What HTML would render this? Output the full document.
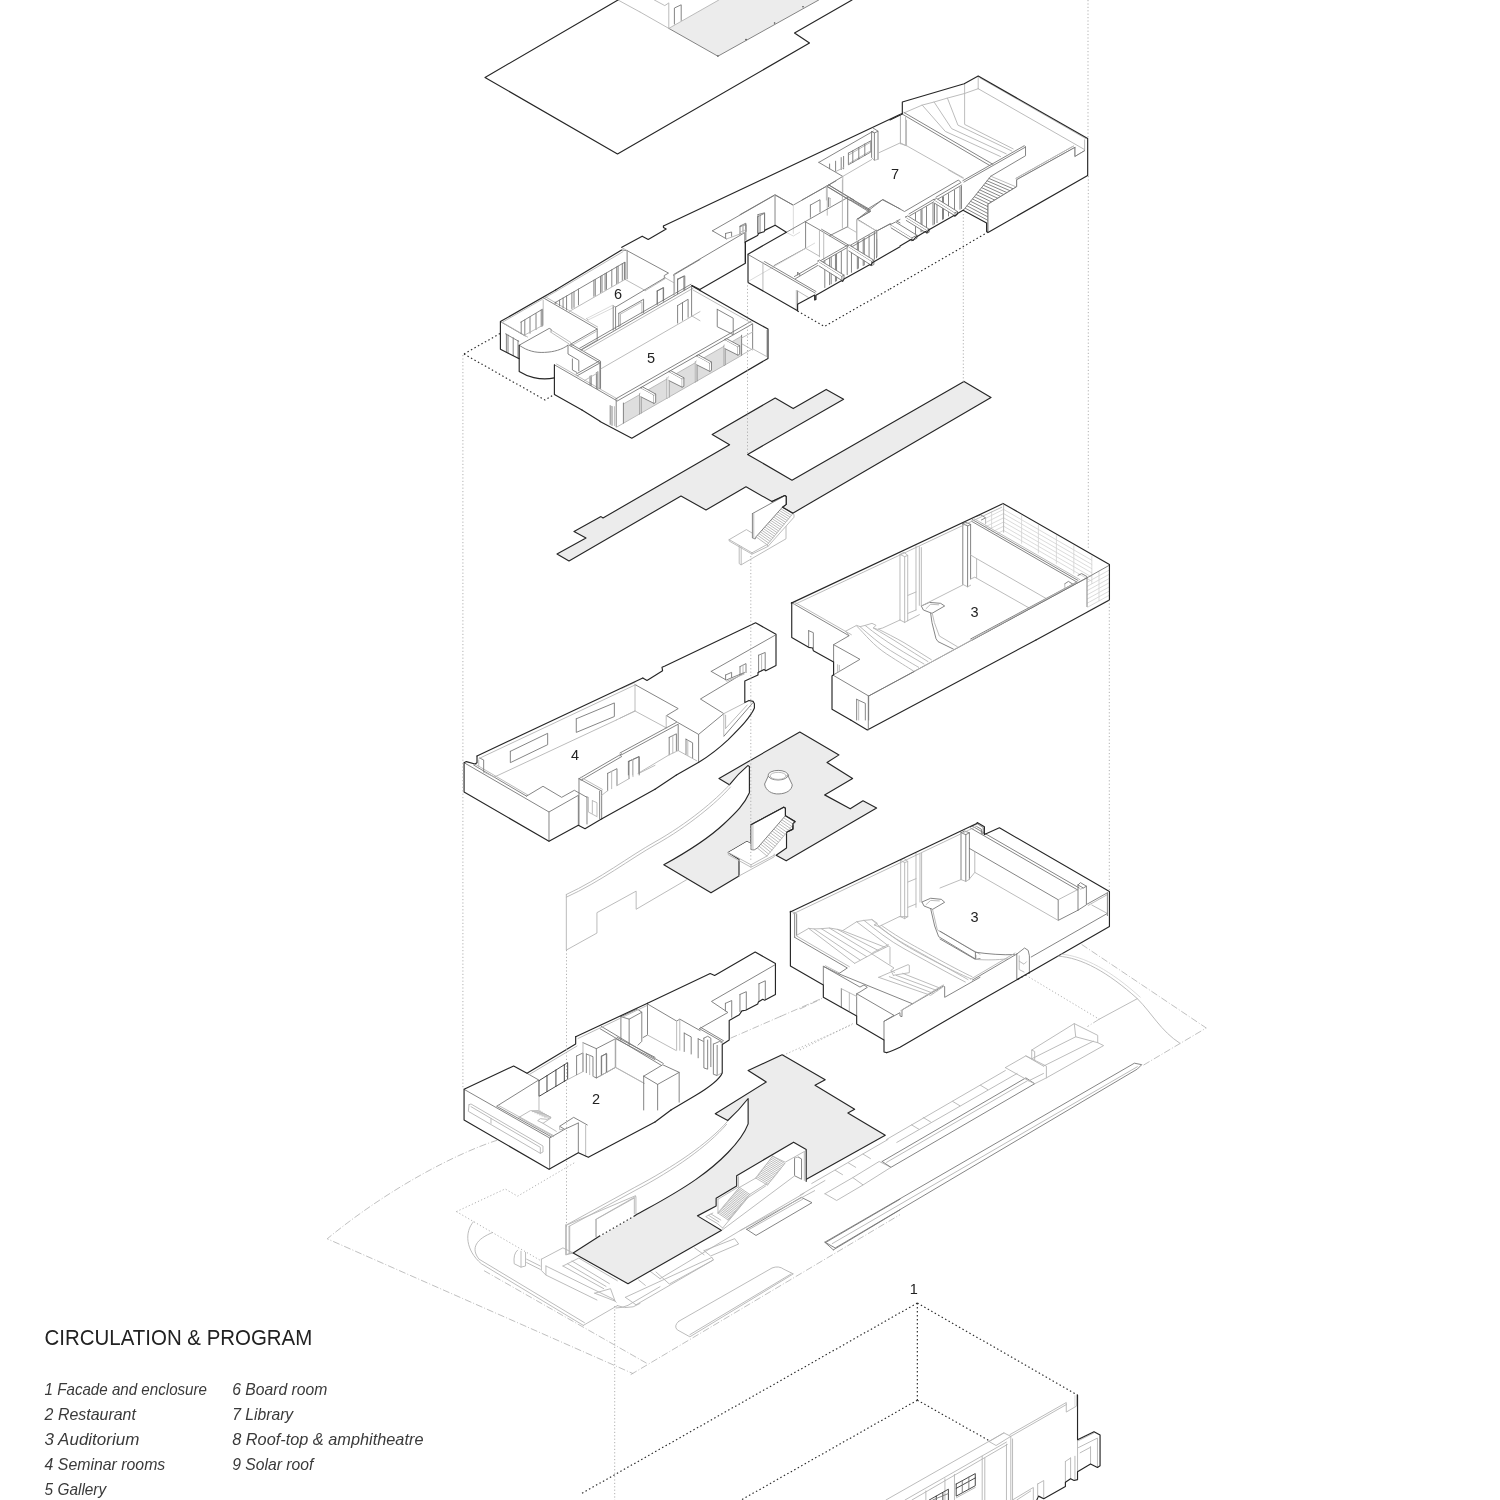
<!DOCTYPE html>
<html><head><meta charset="utf-8">
<style>
html,body{margin:0;padding:0;background:#fff;}
body{width:1500px;height:1500px;overflow:hidden;position:relative;font-family:"Liberation Sans",sans-serif;}
svg{position:absolute;left:0;top:0;}
svg *{vector-effect:non-scaling-stroke;fill:none;stroke-linejoin:round;stroke-linecap:round;}
.k{stroke:#262626;stroke-width:1.15;}
.m{stroke:#777;stroke-width:0.9;}
.n{stroke:#333;stroke-width:0.9;}
.t{stroke:#b4b4b4;stroke-width:0.9;}
.l{stroke:#d2d2d2;stroke-width:0.8;}
.f{fill:#ececec;stroke:none;}
.fk{fill:#ececec;stroke:#262626;stroke-width:1.15;}
.w{fill:#fff;stroke:none;}
.d{stroke:#2a2a2a;stroke-width:1.15;stroke-dasharray:1.5 2.5;stroke-linecap:butt;}
.dl{stroke:#a8a8a8;stroke-width:0.9;stroke-dasharray:1.2 2.2;stroke-linecap:butt;}
.ds{stroke:#b0b0b0;stroke-width:0.8;stroke-dasharray:7 2 1 2;stroke-linecap:butt;}
text{fill:#222;stroke:none;font-family:"Liberation Sans",sans-serif;}
</style></head><body>
<svg width="1500" height="1500" viewBox="0 0 1500 1500">
<g id="roof">
<polygon class="f" points="668.8,28.4 717.9,56.2 818.7,0 718.8,0"/>
<polyline class="m" points="668.8,28.4 717.9,56.2 818.7,0"/>
<polyline class="t" points="668.8,28.4 718.8,0"/>
<polyline class="t" points="640,12 668.8,28.4 668.8,3.2"/>
<polyline class="t" points="654.4,0 664.8,5.6 668.4,3.2"/>
<polyline class="m" points="674.4,24 674.4,8 681.2,4.8 681.2,20.4"/>
<polyline class="t" points="618,0 640,12"/>
<circle cx="717.9" cy="56" r="0.8" style="fill:#444"/><circle cx="746" cy="39.6" r="0.8" style="fill:#444"/><circle cx="774.6" cy="23" r="0.8" style="fill:#444"/><circle cx="803" cy="6.8" r="0.8" style="fill:#444"/>
<polyline class="k" points="618,0 485,77.5 617.5,154 809.5,43 794.5,33 852,0"/>
</g>

<!--ROOF-->
<g transform="translate(490,290) scale(0.08)">
<polyline class="m" points="130,395 440,575"/>
<polyline class="t" points="160,408 470,588"/>
<polyline class="m" points="195,548 360,642"/>
<polyline class="m" points="205,552 205,775"/>
<polyline class="m" points="225,562 225,785"/>
<polyline class="m" points="290,598 290,820"/>
<polyline class="m" points="350,632 350,850"/>
<polyline class="m" points="365,690 740,480 765,492 765,515"/>
<path class="m" d="M365,690 C470,765 570,785 680,780 C800,775 900,745 975,690"/>
<polyline class="t" points="752,522 985,672"/>
<polyline class="t" points="772,505 1008,655"/>
<polyline class="m" points="385,402 645,247"/>
<polyline class="m" points="390,400 390,545"/>
<polyline class="m" points="435,375 435,560"/>
<polyline class="m" points="500,338 500,540"/>
<polyline class="m" points="575,295 575,495"/>
<polyline class="m" points="640,250 640,455"/>
<polyline class="m" points="655,240 655,450"/>
<polyline class="t" points="435,562 650,447"/>
<polyline class="t" points="665,130 665,440"/>
<polyline class="m" points="670,100 1340,487 1340,630"/>
<polyline class="t" points="692,85 1345,462"/>
<polyline class="m" points="1340,487 1000,682"/>
<polyline class="t" points="1340,510 1010,700"/>
<polyline class="t" points="1340,630 1135,748"/>
<polyline class="m" points="975,690 975,800 1110,880 1110,1010"/>
<polyline class="m" points="1030,862 1030,1000 1085,1030"/>
<polyline class="m" points="992,690 1362,905"/>
<polyline class="m" points="1012,675 1382,890 1382,1230"/>
<polyline class="m" points="1362,890 1075,1052"/>
<polyline class="m" points="1378,910 1090,1072"/>
<polyline class="m" points="805,935 1577,1379"/>
<polyline class="t" points="832,925 1592,1362"/>
<polyline class="m" points="1250,1078 1250,1185"/>
<polyline class="m" points="1265,1070 1265,1192"/>
<polyline class="m" points="1330,1032 1330,1232"/>
<polyline class="m" points="1347,1022 1347,1240"/>
<polyline class="t" points="1180,1132 1340,1040"/>
<polyline class="k" points="820,0 130,395 130,740 365,860"/>
<path class="k" d="M365,690 L365,1020 C450,1075 620,1140 805,1098"/>
<polyline class="k" points="805,935 805,1305 1150,1500"/>
<polyline class="t" points="835,12 160,400"/>
</g>
<g transform="translate(490,250) scale(0.14)">
<polyline class="k" points="657,1143 786,1224"/>
<polyline class="k" points="940,0 468,285"/>
<polyline class="t" points="950,12 478,292"/>
<polyline class="k" points="1500,290 1440,255"/>
<polyline class="m" points="462,378 962,88"/>
<polyline class="m" points="470,373 470,384"/>
<polyline class="m" points="497,358 497,399"/>
<polyline class="m" points="522,343 522,414"/>
<polyline class="m" points="547,329 547,428"/>
<polyline class="m" points="585,307 585,418"/>
<polyline class="m" points="600,298 600,410"/>
<polyline class="m" points="632,279 632,392"/>
<polyline class="m" points="742,216 742,331"/>
<polyline class="m" points="752,210 752,325"/>
<polyline class="m" points="790,188 790,304"/>
<polyline class="m" points="800,182 800,299"/>
<polyline class="m" points="822,169 822,287"/>
<polyline class="m" points="832,163 832,281"/>
<polyline class="m" points="870,141 870,260"/>
<polyline class="m" points="905,121 905,241"/>
<polyline class="m" points="915,115 915,235"/>
<polyline class="m" points="945,98 945,218"/>
<polyline class="m" points="960,89 960,210"/>
<polyline class="t" points="565,440 965,210 1110,290"/>
<polyline class="m" points="980,3 980,205"/>
<polyline class="m" points="965,88 965,210"/>
<polyline class="m" points="945,0 980,5 1275,165 1245,182 1245,198"/>
<polyline class="t" points="1110,290 1250,205"/>
<polyline class="l" points="690,490 875,395"/>
<polyline class="l" points="700,500 885,410"/>
<polyline class="t" points="690,490 700,500"/>
<polyline class="m" points="880,398 880,572"/>
<polyline class="m" points="897,408 897,565"/>
<polyline class="t" points="880,398 897,408"/>
<polyline class="m" points="897,408 1250,198"/>
<polyline class="t" points="1250,198 1310,232"/>
<polyline class="m" points="920,452 1097,352 1097,448"/>
<polyline class="m" points="920,452 920,548"/>
<polyline class="t" points="932,458 1085,370 1085,452"/>
<polyline class="t" points="932,458 932,540"/>
<polyline class="m" points="1195,292 1240,268 1240,365"/>
<polyline class="m" points="1195,292 1195,388"/>
<polyline class="m" points="1315,180 1315,322"/>
<polyline class="m" points="1310,180 1500,68"/>
<polyline class="m" points="1340,212 1385,186 1385,288"/>
<polyline class="m" points="1340,212 1340,312"/>
<polyline class="t" points="770,640 660,705"/>
<polyline class="m" points="640,702 1435,245"/>
<polyline class="m" points="652,714 1440,258"/>
<polyline class="t" points="668,724 1452,272"/>
<polyline class="t" points="790,850 1500,440"/>
<polyline class="m" points="1340,397 1415,352 1415,480"/>
<polyline class="m" points="1340,397 1340,522"/>
<polyline class="m" points="1375,376 1375,502"/>
<polyline class="m" points="1440,258 1440,470"/>
<polyline class="t" points="1440,470 1500,505"/>
<polyline class="m" points="785,800 785,990"/>
<polyline class="t" points="770,872 770,985"/>
</g>
<g transform="translate(600,320) scale(0.12)">
<polygon style="fill:#dedede;stroke:none" points="195,700 1180,135 1180,295 195,860"/>
<polyline class="t" points="195,700 1180,135"/>
<polyline class="t" points="140,892 1180,295"/>
<polyline class="m" points="195,692 195,860"/>
<polyline class="m" points="330,615 330,783"/>
<polyline class="m" points="345,606 345,774"/>
<polyline class="m" points="560,482 560,650"/>
<polyline class="m" points="575,474 575,642"/>
<polyline class="m" points="795,348 795,516"/>
<polyline class="m" points="808,340 808,508"/>
<polyline class="m" points="1035,210 1035,378"/>
<polyline class="m" points="1045,204 1045,372"/>
<polyline class="m" points="1180,127 1180,295"/>
<polygon class="w" points="331,617 344,608 344,773 331,782"/>
<polygon class="w" points="561,484 574,476 574,641 561,649"/>
<polygon class="w" points="796,350 807,342 807,507 796,515"/>
<polygon class="w" points="1036,212 1044,206 1044,371 1036,377"/>
<polygon class="w" points="340,565 450,625 450,695 340,640"/>
<polyline class="m" points="340,565 450,625 450,695 340,640"/>
<polygon class="w" points="450,625 464,617 464,687 450,695"/>
<polyline class="m" points="450,625 464,617 464,687 450,695"/>
<polygon class="w" points="340,565 354,557 464,617 450,625"/>
<polyline class="m" points="340,565 354,557 464,617"/>
<polyline class="t" points="340,640 340,777"/>
<polygon class="w" points="575,430 685,490 685,560 575,505"/>
<polyline class="m" points="575,430 685,490 685,560 575,505"/>
<polygon class="w" points="685,490 699,482 699,552 685,560"/>
<polyline class="m" points="685,490 699,482 699,552 685,560"/>
<polygon class="w" points="575,430 589,422 699,482 685,490"/>
<polyline class="m" points="575,430 589,422 699,482"/>
<polyline class="t" points="575,505 575,642"/>
<polygon class="w" points="805,298 915,358 915,428 805,373"/>
<polyline class="m" points="805,298 915,358 915,428 805,373"/>
<polygon class="w" points="915,358 929,350 929,420 915,428"/>
<polyline class="m" points="915,358 929,350 929,420 915,428"/>
<polygon class="w" points="805,298 819,290 929,350 915,358"/>
<polyline class="m" points="805,298 819,290 929,350"/>
<polyline class="t" points="805,373 805,510"/>
<polygon class="w" points="1040,163 1150,223 1150,293 1040,238"/>
<polyline class="m" points="1040,163 1150,223 1150,293 1040,238"/>
<polygon class="w" points="1150,223 1164,215 1164,285 1150,293"/>
<polyline class="m" points="1150,223 1164,215 1164,285 1150,293"/>
<polygon class="w" points="1040,163 1054,155 1164,215 1150,223"/>
<polyline class="m" points="1040,163 1054,155 1164,215"/>
<polyline class="t" points="1040,238 1040,375"/>
<polyline class="m" points="130,658 1258,12"/>
<polyline class="m" points="142,676 1272,32"/>
<polyline class="m" points="135,665 135,890"/>
<polyline class="t" points="120,722 120,880"/>
<polyline class="m" points="85,715 85,870"/>
<polyline class="m" points="100,722 100,878"/>
<polyline class="t" points="85,715 100,722"/>
<polyline class="m" points="1272,32 1272,240"/>
<polyline class="t" points="1180,292 1272,240 1390,305"/>
<polyline class="t" points="1390,85 1390,300"/>
<polyline class="t" points="1180,150 1272,100"/>
<polyline class="t" points="1185,200 1272,250"/>
<polyline class="m" points="977,-89 977,56 1110,122 1110,-15 977,-89"/>
<polyline class="k" points="0,845 265,985 1400,320 1400,75 1270,5"/>
</g>
<polyline class="t" points="693,290 752.4,323.5"/>
<g transform="translate(620,190) scale(0.12)">
<polyline class="m" points="770,340 1295,40 1440,125"/>
<polyline class="m" points="770,340 888,408"/>
<polyline class="m" points="450,702 1040,355 1040,440"/>
<polyline class="t" points="888,408 1040,352"/>
<polyline class="m" points="880,362 930,350 930,385"/>
<polyline class="m" points="880,362 880,400"/>
<polyline class="m" points="1000,305 1050,288 1050,345"/>
<polyline class="m" points="1000,305 1000,368"/>
<polyline class="t" points="1025,296 1025,355"/>
<polyline class="m" points="1150,205 1205,190 1205,335"/>
<polyline class="m" points="1150,205 1150,360"/>
<polyline class="t" points="1170,200 1170,350"/>
<polyline class="t" points="1295,40 1295,295"/>
<polyline class="m" points="480,742 540,715 540,832"/>
<polyline class="m" points="480,742 480,862"/>
<polyline class="m" points="310,842 360,815 360,925"/>
<polyline class="m" points="310,842 310,952"/>
<polyline class="t" points="455,705 455,880"/>
<polyline class="t" points="15,480 60,505 60,740"/>
<polyline class="k" points="15,478 185,385 235,412 385,325 362,312 362,300"/>
<polyline class="k" points="665,830 1045,610 1045,435"/>
<polyline class="k" points="600,795 665,830"/>
</g>
<polyline class="k" points="663.4,226 902,113.6"/>
<g transform="translate(740,180) scale(0.1066667)">
<polyline class="m" points="0,325 325,140 500,235 818,55 900,8"/>
<polyline class="t" points="325,140 325,425"/>
<polyline class="l" points="500,235 500,500"/>
<polyline class="t" points="818,55 818,330"/>
<polyline class="l" points="440,495 500,525 560,490"/>
<polyline class="m" points="165,345 230,312 230,475"/>
<polyline class="m" points="165,345 165,498"/>
<polyline class="t" points="185,336 185,490"/>
<polyline class="m" points="660,235 750,185 750,300"/>
<polyline class="m" points="660,235 660,350"/>
<polyline class="m" points="830,165 830,250"/>
<polyline class="t" points="845,172 845,245"/>
<polyline class="t" points="830,165 845,172"/>
<polyline class="m" points="0,432 55,405 55,560"/>
<polyline class="t" points="0,490 50,468"/>
<polyline class="t" points="28,420 28,478"/>
<polyline class="m" points="435,490 1008,165"/>
<polyline class="m" points="615,390 615,640"/>
<polyline class="m" points="610,390 750,470 1035,640"/>
<polyline class="m" points="765,462 1048,628"/>
<polyline class="t" points="745,470 745,720"/>
<polyline class="t" points="785,492 785,742"/>
<polyline class="m" points="320,802 615,640"/>
<polyline class="t" points="615,640 745,715"/>
<polyline class="l" points="78,950 700,592"/>
<polyline class="m" points="75,698 705,1060"/>
<polyline class="m" points="230,765 712,1045"/>
<polyline class="t" points="215,770 215,1040"/>
<polyline class="m" points="540,1040 540,1165"/>
<polyline class="t" points="528,1035 528,1215"/>
<polyline class="t" points="540,1040 640,1100"/>
<polyline class="m" points="510,905 735,775"/>
<polyline class="m" points="520,925 745,792"/>
<polyline class="m" points="540,868 560,878 560,895"/>
<polyline class="m" points="540,868 540,890"/>
<polyline class="m" points="745,762 1010,610"/>
<polyline class="m" points="760,775 1020,625"/>
<polyline class="m" points="1030,615 1282,470"/>
<polyline class="m" points="1042,630 1282,490"/>
<polyline class="m" points="795,760 795,1008"/>
<polyline class="m" points="840,734 840,982"/>
<polyline class="m" points="855,725 855,973"/>
<polyline class="m" points="895,702 895,950"/>
<polyline class="m" points="905,697 905,945"/>
<polyline class="m" points="950,671 950,919"/>
<polyline class="m" points="1005,639 1005,887"/>
<polyline class="m" points="1045,616 1045,865"/>
<polyline class="m" points="1100,584 1100,833"/>
<polyline class="m" points="1110,579 1110,827"/>
<polyline class="m" points="1155,553 1155,802"/>
<polyline class="m" points="1165,547 1165,796"/>
<polyline class="m" points="1210,521 1210,770"/>
<polyline class="m" points="1260,492 1260,742"/>
<polyline class="m" points="1280,481 1280,730"/>
<polygon class="w" points="730,760 960,900 960,940 730,802"/>
<polyline class="m" points="730,760 955,902 955,942 740,805"/>
<polygon class="w" points="730,760 745,750 975,892 955,902"/>
<polyline class="m" points="730,760 745,750 975,892 975,932 955,942"/>
<polyline class="m" points="955,902 975,892"/>
<polygon class="w" points="1010,620 1240,760 1240,800 1010,662"/>
<polyline class="m" points="1010,620 1235,762 1235,802 1020,665"/>
<polygon class="w" points="1010,620 1025,610 1255,752 1235,762"/>
<polyline class="m" points="1010,620 1025,610 1255,752 1255,792 1235,802"/>
<polyline class="m" points="1235,762 1255,752"/>
<polyline class="m" points="830,45 1225,290 1100,368"/>
<polyline class="m" points="822,62 1210,298"/>
<polyline class="m" points="1100,368 1335,185 1500,270"/>
<polyline class="m" points="1100,368 1280,478"/>
<polyline class="l" points="1100,370 1100,560"/>
<polyline class="m" points="1010,165 1010,440"/>
<polyline class="t" points="960,0 960,450"/>
<polyline class="m" points="1005,440 840,522"/>
<polyline class="t" points="1005,440 1090,490"/>
<polyline class="m" points="1280,480 1410,410 1500,462"/>
<polyline class="m" points="1282,555 1282,720"/>
<polyline class="t" points="1410,410 1410,440 1500,492"/>
<polyline class="m" points="1470,385 1500,370"/>
<polyline class="m" points="1470,385 1500,402"/>
<polyline class="k" points="50,770 50,580 165,520 175,500 225,485 235,470 330,425 435,490 75,695 75,960 540,1225 540,1165 548,1160 700,1078 700,1125 712,1120 712,1080 950,945 962,950 975,928 1215,795 1228,800 1240,775 1500,625"/>
</g>
<polyline class="k" points="700,290.6 752.4,320.6"/>
<g transform="translate(790,100) scale(0.08)">
<polyline class="m" points="360,780 1040,390"/>
<polyline class="m" points="360,780 660,955 470,1070 150,1250"/>
<polyline class="t" points="660,955 1020,745"/>
<polyline class="t" points="660,955 660,1150"/>
<polyline class="m" points="1020,395 1020,720"/>
<polyline class="m" points="1055,412 1055,755"/>
<polyline class="m" points="1100,390 1100,740"/>
<polyline class="m" points="1020,395 1055,412 1100,390 1040,352"/>
<polyline class="t" points="1055,755 1100,740"/>
<polyline class="t" points="1020,720 1055,755"/>
<polyline class="m" points="495,800 495,860"/>
<polyline class="m" points="570,765 570,890"/>
<polyline class="m" points="640,720 640,870"/>
<polyline class="m" points="670,705 670,860"/>
<polyline class="t" points="580,890 670,845"/>
<polyline class="m" points="730,665 1010,510 1010,650 730,810 730,665"/>
<polyline class="t" points="742,682 1000,532"/>
<polyline class="t" points="742,790 1000,640"/>
<polyline class="m" points="785,635 785,780"/>
<polyline class="m" points="860,592 860,738"/>
<polyline class="m" points="935,550 935,695"/>
<polyline class="t" points="1110,660 1380,535 1450,572"/>
<polyline class="t" points="1380,172 1380,540"/>
<polyline class="t" points="1445,215 1445,570"/>
<polyline class="m" points="460,1080 740,1250"/>
<polyline class="m" points="490,1065 800,1250"/>
<polyline class="t" points="455,1080 455,1250"/>
</g>
<g transform="translate(890,60) scale(0.14)">
<polyline class="t" points="630,115 630,205"/>
<polyline class="t" points="533,170 533,460 880,635"/>
<polyline class="t" points="630,205 1390,640"/>
<polyline class="t" points="1390,570 1390,640"/>
<polyline class="m" points="1320,625 1320,690 1390,648"/>
<polyline class="t" points="643,128 1400,562"/>
<polyline class="m" points="1320,625 905,855 905,905 700,1030 700,1225"/>
<polyline class="t" points="1310,615 900,845"/>
<polyline class="t" points="630,205 530,240 410,272 315,300 230,322 100,378"/>
<polyline class="t" points="410,272 485,465 870,650"/>
<polyline class="t" points="315,300 440,490 830,670"/>
<polyline class="t" points="230,322 395,510 790,690"/>
<polyline class="m" points="85,385 715,755"/>
<polyline class="m" points="100,375 735,745"/>
<polyline class="t" points="118,430 118,610"/>
<polyline class="t" points="75,392 75,598"/>
<polyline class="t" points="75,598 118,612 525,842"/>
<polyline class="m" points="520,862 960,612 968,620 968,684 720,830"/>
<polyline class="m" points="528,872 968,622"/>
<polyline class="m" points="720,830 525,1072"/>
<polyline class="m" points="707,846 891,925"/>
<polyline class="m" points="694,863 876,942"/>
<polyline class="m" points="681,879 862,959"/>
<polyline class="m" points="668,895 848,977"/>
<polyline class="m" points="655,912 833,994"/>
<polyline class="m" points="642,928 819,1011"/>
<polyline class="m" points="629,944 805,1028"/>
<polyline class="m" points="616,961 790,1045"/>
<polyline class="m" points="603,977 776,1062"/>
<polyline class="m" points="590,993 762,1079"/>
<polyline class="m" points="577,1010 747,1096"/>
<polyline class="m" points="564,1026 733,1114"/>
<polyline class="m" points="551,1042 719,1131"/>
<polyline class="m" points="538,1059 704,1148"/>
<polyline class="t" points="720,830 905,908"/>
<polygon class="w" points="700,1030 905,905 905,855 1320,625 1320,690 1390,648 1412,640 1412,825 700,1232"/>
<polyline class="m" points="1320,625 1320,690 1390,648"/>
<polyline class="m" points="1320,625 905,855 905,905 700,1030 700,1225"/>
<polyline class="t" points="1310,615 900,845"/>
<polyline class="k" points="0,428 88,385 88,300 530,170 630,115 1412,560 1412,825 700,1232 690,1225 690,1165 525,1075"/>
</g>
<g transform="translate(850,170) scale(0.1)">
<polyline class="m" points="65,495 205,415"/>
<polyline class="m" points="0,280 200,395"/>
<polyline class="m" points="0,296 185,402"/>
<polyline class="t" points="65,495 65,700"/>
<polyline class="l" points="65,495 250,600"/>
<polyline class="m" points="180,388 330,295 545,415 1085,100 1110,125 860,272"/>
<polyline class="m" points="590,440 840,292"/>
<polyline class="m" points="598,458 848,312"/>
<polyline class="m" points="870,296 1118,150"/>
<polyline class="m" points="270,608 400,540 455,572"/>
<polyline class="t" points="270,608 270,860"/>
<polyline class="t" points="985,0 1130,82"/>
<polyline class="m" points="655,432 655,650"/>
<polyline class="m" points="710,400 710,618"/>
<polyline class="m" points="720,395 720,613"/>
<polyline class="m" points="765,368 765,587"/>
<polyline class="m" points="830,331 830,549"/>
<polyline class="m" points="845,322 845,540"/>
<polyline class="m" points="870,305 870,526"/>
<polyline class="m" points="925,273 925,494"/>
<polyline class="m" points="935,267 935,489"/>
<polyline class="m" points="985,238 985,460"/>
<polyline class="m" points="1045,204 1045,425"/>
<polyline class="m" points="1100,172 1100,393"/>
<polyline class="m" points="1115,163 1115,385"/>
<polygon class="w" points="405,545 620,678 620,708 405,575"/>
<polyline class="m" points="405,545 620,678 620,708 413,580"/>
<polygon class="w" points="405,545 455,520 670,653 620,678"/>
<polyline class="m" points="405,545 455,520 670,653 670,683 620,708"/>
<polyline class="m" points="620,678 670,653"/>
<polygon class="w" points="555,470 770,603 770,633 555,500"/>
<polyline class="m" points="555,470 770,603 770,633 563,505"/>
<polygon class="w" points="555,470 577,459 792,592 770,603"/>
<polyline class="m" points="555,470 577,459 792,592 792,622 770,633"/>
<polyline class="m" points="770,603 792,592"/>
<polygon class="w" points="840,298 1050,428 1050,458 840,328"/>
<polyline class="m" points="840,298 1050,428 1050,458 848,333"/>
<polygon class="w" points="840,298 865,285 1075,415 1050,428"/>
<polyline class="m" points="840,298 865,285 1075,415 1075,445 1050,458"/>
<polyline class="m" points="1050,428 1075,415"/>
<polyline class="k" points="500,760 610,695 630,705 655,675 755,615 770,625 790,598 1040,455 1050,462 1075,435 1135,400"/>
<polyline class="d" points="400,1190 1375,625"/>
</g>
<!--L3-->
<polygon class="fk" points="557,554 586,538 574,531.6 601,516.6 603,518 729.6,444.8 712.2,434.6 775.2,398 793.2,408.6 826.2,389.4 843.6,399.2 747.6,454.4 792,480.2 964,381.4 991,397.6 792.8,513.2 782.4,507.2 786.2,504.4 786.2,496.4 784.8,495.6 772,501.6 746,486.8 706,510 681,496 569,561"/>
<g transform="translate(700,470) scale(0.08)">
<polygon class="w" points="365,870 580,745 865,910 650,1035"/>
<polyline class="t" points="365,870 580,745 655,790"/>
<polyline class="t" points="365,870 650,1035 840,930"/>
<polyline class="t" points="365,870 365,888 650,1052 650,1035"/>
<polyline class="t" points="650,1052 850,955"/>
<polyline class="t" points="490,945 490,1170 515,1185 515,960"/>
<polyline class="t" points="515,1185 1075,860 1075,700"/>
<polygon class="w" points="1160,545 1175,555 1175,590 850,955 840,935"/>
<polyline class="t" points="1160,545 1175,555 1175,590 850,955 840,935"/>
<polygon class="w" points="1030,465 1160,545 840,935 700,835"/>
<polyline class="t" points="1030,465 1160,545"/>
<polyline class="t" points="1012,486 1142,567"/>
<polyline class="t" points="993,506 1124,588"/>
<polyline class="t" points="975,527 1107,610"/>
<polyline class="t" points="957,547 1089,632"/>
<polyline class="t" points="938,568 1071,653"/>
<polyline class="t" points="920,588 1053,675"/>
<polyline class="t" points="902,609 1036,697"/>
<polyline class="t" points="883,629 1018,718"/>
<polyline class="t" points="865,650 1000,740"/>
<polyline class="t" points="847,671 982,762"/>
<polyline class="t" points="828,691 964,783"/>
<polyline class="t" points="810,712 947,805"/>
<polyline class="t" points="792,732 929,827"/>
<polyline class="t" points="773,753 911,848"/>
<polyline class="t" points="755,773 893,870"/>
<polyline class="t" points="737,794 876,892"/>
<polyline class="t" points="718,814 858,913"/>
<polyline class="t" points="700,835 840,935"/>
<polyline class="t" points="1160,545 840,935"/>
<polygon class="w" points="655,545 1060,322 1078,332 1078,432 1030,465 700,835 690,862 655,850"/>
<polyline class="m" points="655,545 1060,322 1078,332 1078,432 1030,465 700,835 690,862 655,850 655,545"/>
<polyline class="t" points="672,538 672,858"/>
<polyline class="k" points="900,395 1060,320 1078,330 1078,430 1030,465 1160,540"/>
</g>
<!--C3-->
<g transform="translate(780,560) scale(0.133333)">
<polyline class="m" points="88,320 518,568 402,635 402,765"/>
<polyline class="t" points="112,318 535,560"/>
<polyline class="m" points="402,635 600,745 400,862"/>
<polyline class="m" points="400,865 665,1020 665,1200"/>
<polyline class="m" points="665,1020 1010,835"/>
<polyline class="t" points="490,535 575,490 600,500 640,490 690,475 720,490 700,510 730,520 770,510 900,450"/>
<polyline class="t" points="490,535 520,565"/>
<path class="t" d="M575,495 C640,560 700,640 800,705 S950,800 1000,832"/>
<path class="t" d="M600,500 C670,560 740,625 830,680 S980,770 1040,805"/>
<path class="t" d="M640,492 C710,550 790,605 870,655 S1020,745 1080,780"/>
<path class="t" d="M700,510 C760,545 830,585 900,630 S1050,725 1110,762"/>
<path class="t" d="M740,520 C790,545 860,580 930,620 S1070,710 1135,748"/>
<polyline class="t" points="900,-42 930,-58 958,-35 935,-25 900,-42"/>
<polyline class="t" points="900,-42 900,450"/>
<polyline class="t" points="935,-25 935,470"/>
<polyline class="t" points="958,-35 958,455"/>
<polyline class="t" points="1020,-105 1020,375"/>
<polyline class="t" points="1045,-100 1045,340"/>
<polyline class="t" points="1060,-93 1060,335"/>
<polyline class="t" points="900,450 935,468 958,455"/>
<polyline class="t" points="960,265 1020,240"/>
<polyline class="t" points="960,400 1020,375"/>
<polyline class="t" points="958,455 1045,410"/>
<polyline class="m" points="1060,345 1120,318 1205,325 1235,345 1140,400 1075,375 1060,345"/>
<polyline class="t" points="1095,365 1130,332 1190,336"/>
<polyline class="m" points="1130,400 1140,470 1170,590 1185,612 1300,668"/>
<polyline class="t" points="1142,400 1158,470 1195,570 1330,650"/>
<polyline class="m" points="215,530 250,545 250,660"/>
<polyline class="m" points="215,530 215,650"/>
<polyline class="m" points="575,1045 640,1075 640,1200"/>
<polyline class="m" points="575,1045 575,1200"/>
<polyline class="t" points="590,1060 590,1200"/>
<polyline class="t" points="432,785 432,840"/>
<polyline class="t" points="445,790 445,835"/>
<polyline class="k" points="88,320 88,582 215,655 245,660 250,680 402,765 402,860 390,870 390,1120 530,1200"/>
</g>
<g transform="translate(940,495) scale(0.12)">
<polyline class="l" points="530,120 1265,544"/>
<polyline class="l" points="380,195 530,120"/>
<polyline class="l" points="530,155 1265,579"/>
<polyline class="l" points="380,230 530,155"/>
<polyline class="l" points="530,190 1265,614"/>
<polyline class="l" points="380,265 530,190"/>
<polyline class="l" points="530,225 1265,649"/>
<polyline class="l" points="380,300 530,225"/>
<polyline class="l" points="530,260 1265,684"/>
<polyline class="l" points="380,335 530,260"/>
<polyline class="l" points="530,295 1265,719"/>
<polyline class="l" points="380,370 530,295"/>
<polyline class="l" points="680,172 680,402"/>
<polyline class="l" points="820,252 820,482"/>
<polyline class="l" points="970,339 970,569"/>
<polyline class="l" points="1115,423 1115,653"/>
<polyline class="l" points="1265,509 1265,739"/>
<polyline class="t" points="530,85 530,310"/>
<polyline class="l" points="430,140 430,280"/>
<polyline class="l" points="1230,725 1412,625"/>
<polyline class="l" points="1230,760 1412,660"/>
<polyline class="l" points="1230,795 1412,695"/>
<polyline class="l" points="1230,830 1412,730"/>
<polyline class="l" points="1230,865 1412,765"/>
<polyline class="l" points="1230,900 1412,800"/>
<polyline class="l" points="1230,935 1412,835"/>
<polyline class="l" points="1230,970 1412,870"/>
<polyline class="l" points="1325,640 1325,880"/>
<polygon class="w" points="270,215 1150,722 1150,1000 270,1000"/>
<polyline class="m" points="270,205 1150,712"/>
<polyline class="m" points="262,218 1140,725"/>
<polyline class="t" points="285,198 1165,705"/>
<polyline class="m" points="300,180 340,165 380,190 345,208"/>
<polyline class="t" points="380,190 380,240"/>
<polyline class="m" points="190,240 190,745"/>
<polyline class="m" points="230,258 230,765"/>
<polyline class="m" points="255,245 255,700"/>
<polyline class="m" points="190,240 215,228 255,245 232,258 190,240"/>
<polyline class="t" points="190,745 230,765 255,752"/>
<polyline class="t" points="255,500 305,530 305,690"/>
<polyline class="t" points="305,530 880,860"/>
<polyline class="t" points="255,700 290,685 740,940"/>
<polyline class="m" points="270,1208 1225,690 1225,930"/>
<polyline class="m" points="255,1200 1140,725"/>
<polyline class="m" points="1040,740 1070,720 1110,745"/>
<polyline class="m" points="1150,670 1180,655 1225,680"/>
<polyline class="t" points="1040,740 1040,770"/>
<polyline class="m" points="1225,690 1412,585"/>
<polyline class="k" points="525,70 1412,580 1412,875 800,1208"/>
</g>
<polyline class="k" points="850.7,720 867.3,730 1036,640"/>
<polyline class="m" points="868.3,696 868.3,730"/>
<polyline class="m" points="868.7,696 1087,577.8"/>
<polyline class="t" points="914.7,671.3 1076.8,582"/>
<polyline class="t" points="921.3,606 962.8,585"/>
<g transform="translate(780,500) scale(0.226667)">
<polyline class="k" points="50,455 980,18"/>
<polyline class="t" points="62,462 978,32"/>
</g>
<!--AUD2-->
<g transform="translate(455,720) scale(0.133333)">
<polyline class="m" points="68,320 705,690 925,565 925,790"/>
<polyline class="m" points="705,690 705,910"/>
<polyline class="m" points="140,338 535,570"/>
<polyline class="t" points="150,330 545,562"/>
<polyline class="m" points="535,572 660,497 800,580 895,527 990,580"/>
<polyline class="t" points="295,428 1210,0"/>
<polyline class="m" points="185,285 215,300 215,390"/>
<polyline class="t" points="215,390 295,428"/>
<polyline class="t" points="178,300 178,350"/>
<polyline class="m" points="415,235 695,100 695,185 415,320 415,235"/>
<polyline class="m" points="930,440 1250,254"/>
<polyline class="m" points="945,452 1250,274"/>
<polyline class="m" points="930,440 1095,530"/>
<polyline class="t" points="945,430 1105,520"/>
<polyline class="m" points="1085,535 1085,740"/>
<polyline class="m" points="1100,530 1100,745"/>
<polyline class="m" points="930,440 930,790"/>
<polyline class="m" points="1145,400 1215,365 1215,490"/>
<polyline class="m" points="1145,400 1145,530"/>
<polyline class="t" points="1175,385 1175,515"/>
<polyline class="m" points="1305,310 1380,275 1380,400"/>
<polyline class="m" points="1305,310 1305,440"/>
<polyline class="t" points="1335,298 1335,425"/>
<polyline class="t" points="1100,565 1145,530"/>
<polyline class="t" points="1215,492 1305,440"/>
<polyline class="t" points="1380,400 1500,340"/>
<polyline class="m" points="990,575 990,780"/>
<polyline class="t" points="1000,580 1000,690 1065,725"/>
<polyline class="t" points="1030,605 1065,620 1065,720"/>
<polyline class="t" points="1030,605 1030,700"/>
<polyline class="k" points="165,270 165,320 150,330 85,312 68,320 68,540 705,910 925,790 975,815 1095,745 1500,520"/>
</g>
<g transform="translate(620,615) scale(0.12)">
<polyline class="m" points="125,580 485,780 388,838 480,895 655,995 655,1225"/>
<polyline class="m" points="655,995 865,822 670,700 1035,482"/>
<polyline class="t" points="125,580 125,800 0,860"/>
<polyline class="t" points="125,800 385,940"/>
<polyline class="t" points="385,840 385,940"/>
<polyline class="m" points="0,1150 470,895"/>
<polyline class="m" points="0,1172 485,910 485,1130"/>
<polyline class="m" points="410,1020 470,990 470,1130"/>
<polyline class="m" points="410,1020 410,1165"/>
<polyline class="t" points="440,1005 440,1150"/>
<polyline class="t" points="410,1165 485,1130 640,1215"/>
<polyline class="t" points="410,1165 150,1320"/>
<polyline class="m" points="550,1035 605,1065 605,1190"/>
<polyline class="m" points="550,1035 550,1160"/>
<polyline class="t" points="565,1045 565,1170"/>
<polyline class="m" points="70,1220 160,1180 160,1333"/>
<polyline class="m" points="70,1220 70,1333"/>
<polyline class="t" points="105,1205 105,1333"/>
<polyline class="m" points="760,470 1290,170"/>
<polyline class="m" points="760,470 885,542 1035,480"/>
<polyline class="t" points="890,552 1035,492"/>
<polyline class="m" points="880,500 930,478 930,520"/>
<polyline class="m" points="880,500 880,540"/>
<polyline class="m" points="1000,430 1050,405 1050,480"/>
<polyline class="m" points="1000,430 1000,495"/>
<polyline class="t" points="1025,418 1025,485"/>
<polyline class="m" points="1155,335 1210,312 1210,455"/>
<polyline class="m" points="1155,335 1155,478"/>
<polyline class="t" points="1180,325 1180,465"/>
<polyline class="t" points="865,822 865,1010"/>
<polyline class="t" points="865,822 1035,735"/>
<polyline class="m" points="868,1008 1108,730"/>
<polyline class="t" points="880,945 1060,750"/>
<polyline class="t" points="880,835 880,945"/>
<polyline class="t" points="15,612 125,562"/>
<path class="k" d="M190,525 L225,545 L355,465 L350,435 L375,425 L1130,65 L1300,160 L1300,420 L1215,465 L1200,455 L1150,480 L1150,500 L1040,550 L1040,730 L1075,712 L1110,720 L1120,740 L1120,775 C1090,850 1000,940 900,1040 C820,1115 740,1175 660,1225 L470,1333"/>
</g>
<polyline class="k" points="655,789.3 676.4,775"/>
<polyline class="k" points="477,756 642.8,678"/>
<polyline class="t" points="479,758.5 636,684.5"/>
<polyline class="t" points="616.3,720 635,711"/>
<g transform="translate(455,610) scale(0.226667)">
<polyline class="m" points="535,480 703,410 703,470 535,540 535,480"/>
</g>
<!--SEM-->
<g transform="translate(555,720) scale(0.226667)">
<polyline class="t" points="580,705 358,835 358,755 185,850 185,940 50,1015 50,770"/>
</g>
<g transform="translate(655,720) scale(0.16)">
<path class="fk" d="M400,365 L905,75 L1150,218 L1075,265 L1235,365 L1060,468 L1220,555 L1300,505 L1385,550 L820,880 L757,845 L822,800 L822,702 L862,682 L862,648 L875,635 L815,598 L815,552 L805,545 L600,655 L600,775 L575,760 L458,828 L525,870 L525,975 L350,1080 L55,905 C200,825 350,725 430,650 S560,525 590,455 L590,290 L580,285 Q520,335 465,405 Z"/>
<polygon class="w" points="458,828 575,760 720,840 600,905"/>
<polyline class="t" points="458,828 600,905 700,850"/>
<polyline class="t" points="458,828 458,842 600,920 600,905"/>
<polyline class="t" points="600,920 745,845"/>
<polyline class="t" points="525,975 745,855 745,838"/>
<polygon class="w" points="815,600 875,640 700,850 640,800"/>
<polyline class="t" points="815,600 875,640"/>
<polyline class="t" points="805,612 865,652"/>
<polyline class="t" points="794,624 854,665"/>
<polyline class="t" points="784,635 844,677"/>
<polyline class="t" points="774,647 834,689"/>
<polyline class="t" points="764,659 824,702"/>
<polyline class="t" points="753,671 813,714"/>
<polyline class="t" points="743,682 803,726"/>
<polyline class="t" points="733,694 793,739"/>
<polyline class="t" points="722,706 782,751"/>
<polyline class="t" points="712,718 772,764"/>
<polyline class="t" points="702,729 762,776"/>
<polyline class="t" points="691,741 751,788"/>
<polyline class="t" points="681,753 741,801"/>
<polyline class="t" points="671,765 731,813"/>
<polyline class="t" points="661,776 721,825"/>
<polyline class="t" points="650,788 710,838"/>
<polyline class="t" points="640,800 700,850"/>
<polyline class="t" points="875,640 700,850"/>
<polygon class="w" points="600,655 805,545 815,552 815,598 640,800 620,812 600,810"/>
<polyline class="m" points="600,655 805,545 815,552 815,598 640,800 620,812 600,810 600,655"/>
<polyline class="t" points="612,648 612,812"/>
<polyline class="k" points="600,655 805,545 815,552 815,598 875,635 862,648 862,682 822,702"/>
<path class="w" d="M708,350 L685,400 C690,440 730,465 775,462 C820,460 855,440 858,405 L832,350 Z"/>
<path class="m" d="M708,350 L685,400 C690,440 730,465 775,462 C820,460 855,440 858,405 L832,350"/>
<ellipse class="m" cx="770" cy="345" rx="63" ry="30" style="fill:#fff"/>
<ellipse class="t" cx="770" cy="349" rx="50" ry="22"/>
</g>
<path class="t" d="M729.4,784.8 C715.8,800 687,824 655,841.9 C629.4,856.2 600,879 566.3,894.5"/>
<path class="t" d="M730.5,787 C717,802.5 688,826.5 656,844.4 C630.4,858.7 601,881.5 566.3,897.2"/>
<!--C2-->
<g transform="translate(780,810) scale(0.226667)">
<polygon class="w" points="45,450 870,58 900,75 900,105 965,78 1450,355 1450,495 470,1070 455,1065 455,1015 335,945 335,920 190,830 190,772 45,690"/>
</g>
<g transform="translate(780,890) scale(0.133333)">
<polyline class="m" points="110,170 110,355"/>
<polyline class="m" points="125,180 125,340"/>
<polyline class="t" points="78,160 110,170 125,180"/>
<polyline class="m" points="110,355 505,585 440,628 330,575"/>
<polyline class="t" points="125,345 520,575"/>
<polyline class="m" points="325,572 325,712"/>
<polyline class="m" points="330,575 600,728 630,712 655,730 600,765 575,778 575,945"/>
<polyline class="t" points="340,568 445,622"/>
<polyline class="m" points="460,740 460,878"/>
<polyline class="t" points="520,772 520,905"/>
<polyline class="t" points="460,740 575,798"/>
<polyline class="m" points="575,778 855,940 780,985 780,1125"/>
<polyline class="m" points="780,985 900,920 900,945 915,950 915,900 1225,720 1235,725 1235,805 1500,655"/>
<polyline class="t" points="905,905 1225,712"/>
<polyline class="m" points="440,628 990,852"/>
<polyline class="t" points="215,288 560,550"/>
<polyline class="t" points="255,292 600,525"/>
<polyline class="t" points="310,290 650,500"/>
<polyline class="t" points="370,285 690,478"/>
<polyline class="t" points="430,295 740,455"/>
<polyline class="t" points="470,305 790,430"/>
<polyline class="t" points="125,340 215,288 255,292 310,290 370,285 430,295 470,305 575,238 630,228 690,222 730,250 705,262 740,275 895,200"/>
<polyline class="t" points="560,550 690,480 815,420 825,430 825,555"/>
<polyline class="t" points="695,470 812,410"/>
<polyline class="t" points="575,238 812,418"/>
<path class="t" d="M690,222 C760,290 850,360 950,420 S1300,610 1430,665"/>
<path class="t" d="M740,275 C800,320 880,375 970,425 S1310,615 1410,672"/>
<path class="t" d="M760,265 C830,315 900,360 990,410 S1330,600 1440,650"/>
<path class="t" d="M630,228 C720,300 820,380 930,440 S1290,640 1390,690"/>
<polyline class="t" points="690,480 855,585 830,605 860,618"/>
<polyline class="t" points="740,655 960,560 970,565 970,620 850,640"/>
<polyline class="t" points="740,655 1130,790 1225,725"/>
<polyline class="t" points="820,650 1150,775"/>
<polyline class="t" points="870,640 1180,755"/>
<polyline class="t" points="920,625 1205,738"/>
<polyline class="t" points="850,640 835,610"/>
<polyline class="m" points="1130,140 1160,270 1190,350 1470,520 1500,515"/>
<polyline class="t" points="1145,150 1180,300 1500,482"/>
<polyline class="t" points="1470,520 1470,490"/>
<polyline class="m" points="1065,90 1130,62 1210,70 1235,92 1145,145 1080,120 1065,90"/>
<polyline class="t" points="1095,110 1130,78 1195,82"/>
<polyline class="t" points="905,-223 905,200"/>
<polyline class="t" points="935,-205 935,215"/>
<polyline class="t" points="958,-215 958,200"/>
<polyline class="t" points="1020,-277 1020,130"/>
<polyline class="t" points="1050,-268 1050,90"/>
<polyline class="t" points="1062,-277 1062,85"/>
<polyline class="t" points="905,200 935,215 958,200"/>
<polyline class="t" points="958,200 895,200"/>
<polyline class="t" points="960,-60 1020,-85"/>
<polyline class="t" points="960,130 1020,105"/>
<polyline class="t" points="905,-223 930,-238 958,-215 935,-205 905,-223"/>
<polyline class="k" points="78,160 78,570 325,712 325,805 575,945 575,1005 780,1125 780,1215 800,1220"/>
<path class="k" d="M800,1220 C840,1210 870,1195 900,1180 L1500,830"/>
<polyline class="ds" points="0,950 320,810"/>
<polyline class="dl" points="0,1250 540,1010"/>
</g>
<g transform="translate(940,810) scale(0.12)">
<polyline class="m" points="175,190 175,580"/>
<polyline class="m" points="215,205 215,595"/>
<polyline class="m" points="245,190 245,575"/>
<polyline class="m" points="175,190 205,175 245,190 215,205 175,190"/>
<polyline class="t" points="175,580 215,595 245,578"/>
<polyline class="m" points="255,140 310,115 360,145 360,200 345,195 345,160 300,135"/>
<polyline class="m" points="255,150 1145,665"/>
<polyline class="m" points="270,135 1160,650"/>
<polyline class="m" points="245,320 985,748 985,920 1150,835"/>
<polyline class="t" points="290,350 290,520 985,920"/>
<polyline class="t" points="245,575 290,520"/>
<polyline class="t" points="985,748 1150,662"/>
<polyline class="m" points="1150,625 1150,835"/>
<polyline class="m" points="1220,635 1220,790 1150,835"/>
<polyline class="m" points="1150,625 1170,605 1220,635 1195,650 1150,625"/>
<polyline class="t" points="1170,660 1195,650"/>
<polyline class="m" points="1225,785 1395,690"/>
<polyline class="t" points="1235,795 1395,705"/>
<polyline class="m" points="1395,690 1395,880"/>
<polyline class="t" points="1265,792 1395,862"/>
<polyline class="m" points="760,1225 1395,862"/>
<polyline class="m" points="640,1200 705,1150 735,1170 745,1215 745,1350"/>
<polyline class="m" points="640,1200 640,1410"/>
<polyline class="t" points="660,1260 700,1285 720,1265"/>
<polyline class="t" points="660,1215 660,1330 700,1350"/>
<polyline class="m" points="0,1010 295,1185 295,1245 0,1075"/>
<path class="m" d="M295,1185 C400,1200 520,1210 620,1205"/>
<path class="t" d="M295,1245 C400,1252 470,1250 560,1240"/>
<polyline class="m" points="270,1417 640,1200"/>
<polyline class="t" points="255,1410 625,1192"/>
<polyline class="t" points="0,650 175,580"/>
<polyline class="k" points="310,105 370,140 370,205 495,148 1412,680 1412,970 745,1355"/>
<polyline class="d" points="650,1410 745,1358"/>
</g>
<g transform="translate(780,810) scale(0.226667)">
<polyline class="k" points="45,450 870,58"/>
<polyline class="t" points="58,458 868,72"/>
</g>
<polyline class="k" points="980,1000.7 1029.4,972.6"/>
<!--AUD1-->
<g transform="translate(455,940) scale(0.226667)">
<path class="w" d="M40,660 L260,558 L325,595 L535,470 L535,430 L850,280 L1135,150 L1145,158 L1320,55 L1415,105 L1415,240 L1360,265 L1350,258 L1265,305 L1270,320 L1215,345 L1215,440 L1180,460 L1180,580 C1150,630 1050,690 900,770 L580,950 L545,930 L415,1010 L40,795 Z"/>
</g>
<g transform="translate(455,1030) scale(0.133333)">
<polyline class="m" points="68,445 710,810 710,1045"/>
<polyline class="m" points="540,325 628,375 312,572 720,800"/>
<polyline class="t" points="325,565 735,790"/>
<polyline class="m" points="710,810 822,745 785,722 890,655 992,712"/>
<polyline class="m" points="925,700 925,920"/>
<polyline class="t" points="980,715 980,945"/>
<polyline class="t" points="785,722 785,748 822,745"/>
<polyline class="m" points="822,745 925,697"/>
<polyline class="n" points="630,380 845,245 845,370 630,498 630,380"/>
<polyline class="n" points="690,342 690,462"/>
<polyline class="n" points="757,300 757,422"/>
<polyline class="n" points="820,260 820,385"/>
<polyline class="t" points="560,332 915,120"/>
<polyline class="t" points="630,498 630,600"/>
<polyline class="t" points="845,372 960,312"/>
<polyline class="m" points="912,195 960,172 960,310"/>
<polyline class="m" points="912,195 912,335"/>
<polyline class="m" points="985,180 1035,200 1035,345"/>
<polyline class="m" points="985,180 985,320"/>
<polyline class="t" points="1010,190 1010,335"/>
<polyline class="m" points="960,95 1060,140 1060,360 1040,350"/>
<polyline class="m" points="1060,140 1205,65 1205,280 1060,360"/>
<polyline class="t" points="960,95 960,310"/>
<polyline class="m" points="1100,195 1138,178 1138,318"/>
<polyline class="m" points="1100,195 1100,335"/>
<polyline class="m" points="1205,65 1500,222"/>
<polyline class="m" points="1215,55 1500,205"/>
<polyline class="t" points="1205,280 1420,400"/>
<polyline class="t" points="105,560 120,555 660,870 660,915 640,925 100,610 105,560"/>
<polyline class="t" points="120,575 640,880 640,925"/>
<polyline class="t" points="270,665 270,700"/>
<polyline class="t" points="480,655 565,605 625,605 720,655 690,670 640,665 620,680 660,700 720,660"/>
<polyline class="t" points="480,655 740,800"/>
<polyline class="t" points="660,700 760,760"/>
<polyline class="t" points="580,612 640,608"/>
<polyline class="t" points="598,620 655,617"/>
<polyline class="t" points="616,628 670,626"/>
<polyline class="t" points="634,636 685,635"/>
<polyline class="t" points="652,644 700,644"/>
<polyline class="t" points="670,652 715,653"/>
<polyline class="k" points="905,50 905,105 540,325 440,270 68,445 68,675 705,1045 925,920 1000,955 1500,690"/>
</g>
<g transform="translate(600,940) scale(0.126667)">
<polyline class="m" points="10,682 500,975"/>
<polyline class="m" points="0,700 485,990"/>
<polyline class="m" points="165,605 165,790"/>
<polyline class="m" points="165,605 295,545 330,570 230,625 165,605"/>
<polyline class="m" points="230,625 230,830"/>
<polyline class="m" points="330,570 330,800 300,830"/>
<polyline class="m" points="375,500 375,750 340,770"/>
<polyline class="m" points="375,505 605,640 630,625 790,715"/>
<polyline class="t" points="605,640 605,870"/>
<polyline class="t" points="630,625 630,870"/>
<polyline class="t" points="375,750 600,872"/>
<polyline class="m" points="785,700 1010,572 880,485 1378,198"/>
<polyline class="m" points="785,700 968,805"/>
<polyline class="m" points="795,690 975,795"/>
<polyline class="m" points="900,820 945,800 965,815"/>
<polyline class="m" points="665,735 720,765 720,900"/>
<polyline class="m" points="665,735 665,880"/>
<polyline class="m" points="775,780 815,800"/>
<polyline class="m" points="775,780 775,930"/>
<polyline class="m" points="820,775 820,1010 850,1020 850,790"/>
<polyline class="m" points="820,775 850,760 875,775 875,1000"/>
<polyline class="m" points="895,820 895,1060 925,1070 925,832"/>
<polyline class="t" points="925,1070 960,1050"/>
<polyline class="m" points="990,500 1040,478 1040,610"/>
<polyline class="m" points="990,500 990,560"/>
<polyline class="m" points="1105,430 1155,408 1155,550"/>
<polyline class="m" points="1105,430 1105,565"/>
<polyline class="m" points="1255,345 1305,322 1305,465"/>
<polyline class="m" points="1255,345 1255,485"/>
<polyline class="t" points="120,775 120,1005 0,1075"/>
<polyline class="t" points="120,1005 345,1130"/>
<polyline class="m" points="345,1075 495,985 625,1045 455,1140 345,1075"/>
<polyline class="m" points="345,1075 345,1342"/>
<polyline class="m" points="455,1140 455,1342"/>
<polyline class="m" points="625,1045 625,1280"/>
<polyline class="m" points="10,920 50,895 50,1040"/>
<polyline class="m" points="10,920 10,1060"/>
<path class="k" d="M375,500 L870,265 L905,280 L1225,95 L1385,185 L1385,430 L1300,475 L1285,468 L1250,490 L1245,505 L1150,555 L1120,560 L1100,590 L1020,635 L1020,790 L965,825 L965,1050 C940,1110 850,1170 750,1230 L560,1342"/>
</g>
<polyline class="k" points="655,1122 671,1110"/>
<polyline class="k" points="575.7,1036.7 647.5,1003.3"/>
<polyline class="t" points="578,1038.5 647,1005.5"/>
<!--REST-->
<g transform="translate(300,1130) scale(0.226667)">
<path class="ds" d="M870,45 C700,100 400,250 120,480 L1470,1075"/>
<polyline class="dl" points="690,360 905,260 960,292 1210,145"/>
<polyline class="dl" points="690,360 1060,575"/>
<path class="t" d="M765,405 C725,450 730,530 800,590 L1250,862"/>
<path class="t" d="M850,452 C780,480 750,520 790,570 L1255,850"/>
<polyline class="t" points="1250,862 1400,775"/>
<path class="t" d="M1400,775 Q1430,790 1470,780 L1500,765"/>
<polyline class="t" points="1175,420 1480,290"/>
<polyline class="t" points="1175,420 1175,550 1200,540"/>
<polyline class="t" points="1190,425 1190,545"/>
<polyline class="t" points="1305,395 1475,300 1475,370"/>
<polyline class="t" points="1305,395 1305,470"/>
<polyline class="t" points="1065,570 1160,520 1200,540"/>
<polyline class="t" points="1065,570 1065,620 1085,640 1085,600"/>
<polyline class="t" points="1085,600 1380,745 1395,760"/>
<polyline class="t" points="1085,640 1310,750"/>
<polyline class="t" points="1160,600 1340,700"/>
<polyline class="t" points="1180,590 1350,690"/>
<polyline class="t" points="1200,578 1365,678"/>
<polyline class="t" points="1160,600 1230,565 1400,665"/>
<polyline class="t" points="1300,720 1370,700 1390,755 1300,720"/>
<path class="t" d="M960,530 Q940,545 945,590 L975,605 L995,600 L995,540"/>
<polyline class="t" points="975,535 975,605"/>
<polyline class="t" points="1000,570 1060,600"/>
<polyline class="t" points="1000,585 1060,615"/>
</g>
<g transform="translate(500,1180) scale(0.266667)">
<polyline class="ds" points="490,730 1500,130"/>
<polyline class="ds" points="-60,340 555,690"/>
<path class="t" d="M670,530 L1020,330 Q1045,320 1065,335 L1100,352 L712,588 L665,562 Q650,548 670,530"/>
<polyline class="t" points="712,580 1092,352"/>
<polyline class="m" points="925,185 1130,65 1170,85 960,208 925,185"/>
<polyline class="t" points="935,185 1135,72"/>
<polyline class="m" points="1220,235 1500,72"/>
<polyline class="m" points="1250,262 1500,112"/>
<polyline class="m" points="1220,235 1250,262"/>
<polyline class="t" points="470,440 795,290 800,300 510,468 470,440"/>
<polyline class="t" points="765,265 880,220 895,240 790,285 765,265"/>
<path class="t" d="M435,480 Q460,480 480,470 L600,400"/>
<polyline class="t" points="585,345 635,390 800,300"/>
<polyline class="t" points="730,255 765,280"/>
<polyline class="t" points="520,375 545,395"/>
<polyline class="t" points="600,370 900,190 1180,40"/>
<polyline class="t" points="560,340 600,370"/>
<polyline class="t" points="900,190 1140,50"/>
</g>
<g transform="translate(800,940) scale(0.293333)">
<polyline class="m" points="85,1030 1140,420 1165,425 1150,440 120,1050 85,1030"/>
<polyline class="t" points="110,1035 1150,432"/>
<polyline class="t" points="85,865 180,810 215,835 125,888 85,865"/>
<polyline class="t" points="180,810 270,755 310,775 215,835"/>
<polyline class="m" points="280,755 770,470 800,490 310,775 280,755"/>
<polyline class="t" points="295,758 775,480"/>
<polyline class="t" points="295,680 700,445"/>
<polyline class="t" points="330,690 740,455"/>
<polyline class="t" points="40,830 300,680"/>
<polyline class="t" points="0,870 85,820"/>
<polyline class="t" points="380,630 405,645"/>
<polyline class="t" points="420,605 445,620"/>
<polyline class="t" points="520,550 545,565"/>
<polyline class="t" points="615,495 640,510"/>
<polyline class="t" points="120,785 145,800"/>
<polyline class="t" points="165,760 190,775"/>
<polyline class="t" points="215,730 240,745"/>
<polyline class="t" points="700,435 770,395 790,405 790,375 935,285 1015,325 1015,350 1035,360 840,470 800,490 780,480 700,435"/>
<polyline class="t" points="935,285 940,330 1015,350"/>
<polyline class="t" points="790,405 940,330"/>
<polyline class="t" points="830,430 1000,345"/>
<polyline class="t" points="790,405 840,430 840,470"/>
<polyline class="t" points="770,395 830,430"/>
<polyline class="t" points="780,480 830,455"/>
<polyline class="t" points="790,375 800,380 800,410"/>
<polyline class="ds" points="960,15 1385,300 1165,430"/>
<path class="t" d="M880,55 C960,60 1050,110 1150,200 C1200,250 1230,310 1295,352"/>
<path class="l" d="M890,48 C970,55 1060,105 1160,195"/>
<polyline class="t" points="1150,200 1020,270"/>
<polyline class="dl" points="770,120 1020,270"/>
<polyline class="ds" points="1020,270 980,295"/>
<polyline class="ds" points="0,235 75,200"/>
<polyline class="dl" points="0,375 180,285"/>
</g>
<polyline class="ds" points="730.5,1038.2 781,1016.2"/>
<g transform="translate(560,1040) scale(0.226667)">
<path class="t" d="M740,358 C650,460 500,560 330,650 L30,815"/>
<path class="t" d="M735,372 C650,470 505,572 335,662 L40,822"/>
<polyline class="t" points="25,815 25,948 58,940"/>
<polyline class="t" points="40,822 40,940"/>
<polyline class="t" points="160,870 160,790 335,690 335,770"/>
<path class="f" d="M58,940 L300,1075 L711,840 L606,776 L690,735 L690,700 L780,650 L780,600 L1035,455 L1085,485 L1085,615 L1435,420 L1270,322 L1300,305 L1125,200 L1170,175 L980,65 L830,135 L910,185 L685,325 L740,355 Q790,310 830,258 L830,370 C800,450 700,545 600,615 S400,735 330,775 L58,940 Z"/>
<path class="k" d="M330,775 C400,735 500,685 600,615 S800,450 830,370 L830,258 Q790,310 740,355 L685,325 L910,185 L830,135 L980,65 L1170,175 L1125,200 L1300,305 L1270,322 L1435,420 L1085,615"/>
<path class="k" d="M175,865 L58,940 L300,1075 L711,840"/>
<polyline class="d" points="330,775 175,865"/>
</g>
<g transform="translate(690,1130) scale(0.093333)">
<polygon class="w" points="80,920 280,815 280,730 500,600 500,490 1110,130 1245,210 1245,550 335,1075"/>
<polyline class="t" points="300,890 410,965"/>
<polyline class="t" points="310,878 420,952"/>
<polyline class="t" points="321,865 431,940"/>
<polyline class="t" points="331,852 441,928"/>
<polyline class="t" points="342,840 452,915"/>
<polyline class="t" points="352,828 462,902"/>
<polyline class="t" points="363,815 473,890"/>
<polyline class="t" points="373,802 483,878"/>
<polyline class="t" points="384,790 494,865"/>
<polyline class="t" points="394,778 504,852"/>
<polyline class="t" points="405,765 515,840"/>
<polyline class="t" points="415,752 525,828"/>
<polyline class="t" points="425,740 535,815"/>
<polyline class="t" points="436,728 546,802"/>
<polyline class="t" points="446,715 556,790"/>
<polyline class="t" points="457,702 567,778"/>
<polyline class="t" points="467,690 577,765"/>
<polyline class="t" points="478,678 588,752"/>
<polyline class="t" points="488,665 598,740"/>
<polyline class="t" points="499,652 609,728"/>
<polyline class="t" points="509,640 619,715"/>
<polyline class="t" points="520,628 630,702"/>
<polyline class="t" points="530,615 640,690"/>
<polyline class="t" points="300,890 530,615"/>
<polyline class="t" points="410,965 640,690"/>
<polyline class="t" points="350,1050 620,725"/>
<polyline class="t" points="530,615 705,515"/>
<polyline class="t" points="620,725 810,600"/>
<polyline class="t" points="640,690 820,575"/>
<polyline class="t" points="705,515 830,590"/>
<polyline class="t" points="716,500 842,576"/>
<polyline class="t" points="728,486 853,561"/>
<polyline class="t" points="739,471 865,547"/>
<polyline class="t" points="750,456 876,532"/>
<polyline class="t" points="761,442 888,518"/>
<polyline class="t" points="772,427 899,504"/>
<polyline class="t" points="784,412 911,489"/>
<polyline class="t" points="795,398 922,475"/>
<polyline class="t" points="806,383 934,461"/>
<polyline class="t" points="818,368 946,446"/>
<polyline class="t" points="829,353 957,432"/>
<polyline class="t" points="840,339 969,418"/>
<polyline class="t" points="851,324 980,403"/>
<polyline class="t" points="862,309 992,389"/>
<polyline class="t" points="874,295 1003,374"/>
<polyline class="t" points="885,280 1015,360"/>
<polyline class="t" points="705,515 885,280"/>
<polyline class="t" points="830,590 1015,360"/>
<polyline class="t" points="170,930 290,1000 350,1050"/>
<polyline class="t" points="200,915 310,985"/>
<polyline class="t" points="225,900 330,965"/>
<polyline class="t" points="175,925 245,890"/>
<polyline class="t" points="300,742 300,890"/>
<polyline class="t" points="300,742 515,612"/>
<polyline class="t" points="520,500 520,612"/>
<polyline class="t" points="885,280 1020,345 1235,225"/>
<polyline class="m" points="1120,300 1120,490 1190,525"/>
<polyline class="m" points="1160,290 1195,310 1195,525"/>
<polyline class="t" points="1120,300 1160,290"/>
<polyline class="t" points="1225,240 1225,540"/>
<polyline class="t" points="340,1075 1120,492"/>
<polyline class="k" points="335,1075 80,920 280,815 280,730 500,600 500,490 1110,130 1245,210 1245,550"/>
</g>
<!--SITE-->
<g transform="translate(580,1270) scale(0.366667)">
<polyline class="d" points="920,90 0,612"/>
<polyline class="d" points="920,90 920,355"/>
<polyline class="d" points="920,90 1355,340"/>
<polyline class="d" points="920,355 440,627"/>
<polyline class="d" points="920,355 1115,465"/>
</g>
<g transform="translate(860,1380) scale(0.173333)">
<polyline class="t" points="865,315 1190,130 1190,185 1250,150 1250,85"/>
<polyline class="t" points="870,325 1190,142"/>
<polyline class="l" points="1240,90 1240,150"/>
<polyline class="t" points="745,355 830,305 870,325 870,692"/>
<polyline class="t" points="845,370 845,692"/>
<polyline class="t" points="880,340 880,692"/>
<polyline class="t" points="745,355 785,378 870,325"/>
<polyline class="t" points="150,692 830,305"/>
<polyline class="t" points="260,692 845,358"/>
<polyline class="t" points="300,692 850,372"/>
<polyline class="t" points="705,440 705,692"/>
<polyline class="t" points="720,450 720,692"/>
<polyline class="t" points="545,545 545,692"/>
<polyline class="t" points="490,570 490,692"/>
<polyline class="t" points="380,640 380,692"/>
<polyline class="n" points="555,600 665,540 665,610 555,670 555,600"/>
<polyline class="n" points="555,625 665,565"/>
<polyline class="m" points="590,582 590,650"/>
<polyline class="m" points="628,560 628,630"/>
<polyline class="t" points="555,680 665,620"/>
<polyline class="n" points="400,692 510,630 510,692"/>
<polyline class="n" points="440,670 440,692"/>
<polyline class="n" points="478,650 478,692"/>
<polyline class="m" points="420,692 510,655"/>
<polyline class="t" points="1255,345 1255,530"/>
<polyline class="t" points="1185,470 1185,590"/>
<polyline class="t" points="1215,450 1215,570"/>
<polyline class="t" points="1240,440 1240,575"/>
<polyline class="t" points="1185,470 1215,450"/>
<polyline class="t" points="1025,600 1060,580 1060,685"/>
<polyline class="t" points="1025,600 1025,670"/>
<polyline class="t" points="880,692 1000,620 1000,692"/>
<polyline class="t" points="905,692 985,640"/>
<polyline class="t" points="1260,390 1370,335 1370,500"/>
<polyline class="t" points="1330,385 1330,485"/>
<polyline class="t" points="1260,350 1350,305"/>
<polyline class="t" points="1270,420 1330,388"/>
<polyline class="k" points="1255,85 1255,345 1350,298 1385,318 1385,495 1370,505 1330,485 1255,530 1255,575 1235,580 1215,570 1185,590 1185,615 1060,685 1030,670 1020,692"/>
</g>
<!--FACADE-->
<polyline class="d" points="464,354 500,333.5"/>
<polyline class="d" points="464,354 545,400 555,394"/>
<polyline class="d" points="797.5,311 824.4,326.4 890,289"/>
<polyline class="dl" points="462.9,355 462.9,1089"/>
<polyline class="dl" points="566.5,950 566.5,1228"/>
<polyline class="dl" points="747.5,282 747.5,454"/>
<polyline class="dl" points="750.8,556 750.8,862"/>
<polyline class="dl" points="963.3,214 963.3,382"/>
<polyline class="dl" points="1088.0,0 1088.0,138"/>
<polyline class="dl" points="1088.3,176 1088.3,550"/>
<polyline class="dl" points="1109.3,600 1109.3,890"/>
<polyline class="dl" points="614.7,1306 614.7,1500"/>
<!--VERT-->
<g style="filter:grayscale(1)">
<text x="44.6" y="1345.3" font-size="22.3" textLength="267.7" lengthAdjust="spacingAndGlyphs" style="fill:#222">CIRCULATION &amp; PROGRAM</text>
<text x="44.6" y="1394.8" font-size="17" textLength="162.4" lengthAdjust="spacingAndGlyphs" style="font-style:italic;fill:#3a3a3a">1 Facade and enclosure</text>
<text x="44.6" y="1419.8" font-size="17" textLength="91.3" lengthAdjust="spacingAndGlyphs" style="font-style:italic;fill:#3a3a3a">2 Restaurant</text>
<text x="44.6" y="1445.0" font-size="17" textLength="94.7" lengthAdjust="spacingAndGlyphs" style="font-style:italic;fill:#3a3a3a">3 Auditorium</text>
<text x="44.6" y="1470.2" font-size="17" textLength="120.7" lengthAdjust="spacingAndGlyphs" style="font-style:italic;fill:#3a3a3a">4 Seminar rooms</text>
<text x="44.6" y="1494.8" font-size="17" textLength="61.6" lengthAdjust="spacingAndGlyphs" style="font-style:italic;fill:#3a3a3a">5 Gallery</text>
<text x="232.2" y="1394.8" font-size="17" textLength="95.2" lengthAdjust="spacingAndGlyphs" style="font-style:italic;fill:#3a3a3a">6 Board room</text>
<text x="232.2" y="1419.8" font-size="17" textLength="61.0" lengthAdjust="spacingAndGlyphs" style="font-style:italic;fill:#3a3a3a">7 Library</text>
<text x="232.2" y="1445.0" font-size="17" textLength="191.3" lengthAdjust="spacingAndGlyphs" style="font-style:italic;fill:#3a3a3a">8 Roof-top &amp; amphitheatre</text>
<text x="232.2" y="1470.2" font-size="17" textLength="81.2" lengthAdjust="spacingAndGlyphs" style="font-style:italic;fill:#3a3a3a">9 Solar roof</text>
<text x="651.0" y="362.5" font-size="14.5" style="text-anchor:middle;fill:#222">5</text>
<text x="618.0" y="298.5" font-size="14.5" style="text-anchor:middle;fill:#222">6</text>
<text x="895.0" y="178.5" font-size="14.5" style="text-anchor:middle;fill:#222">7</text>
<text x="974.5" y="616.5" font-size="14.5" style="text-anchor:middle;fill:#222">3</text>
<text x="575.0" y="760.0" font-size="14.5" style="text-anchor:middle;fill:#222">4</text>
<text x="974.5" y="921.5" font-size="14.5" style="text-anchor:middle;fill:#222">3</text>
<text x="596.0" y="1103.5" font-size="14.5" style="text-anchor:middle;fill:#222">2</text>
<text x="913.7" y="1293.5" font-size="14.5" style="text-anchor:middle;fill:#222">1</text>
</g>
<!--TEXT-->
</svg>
</body></html>
